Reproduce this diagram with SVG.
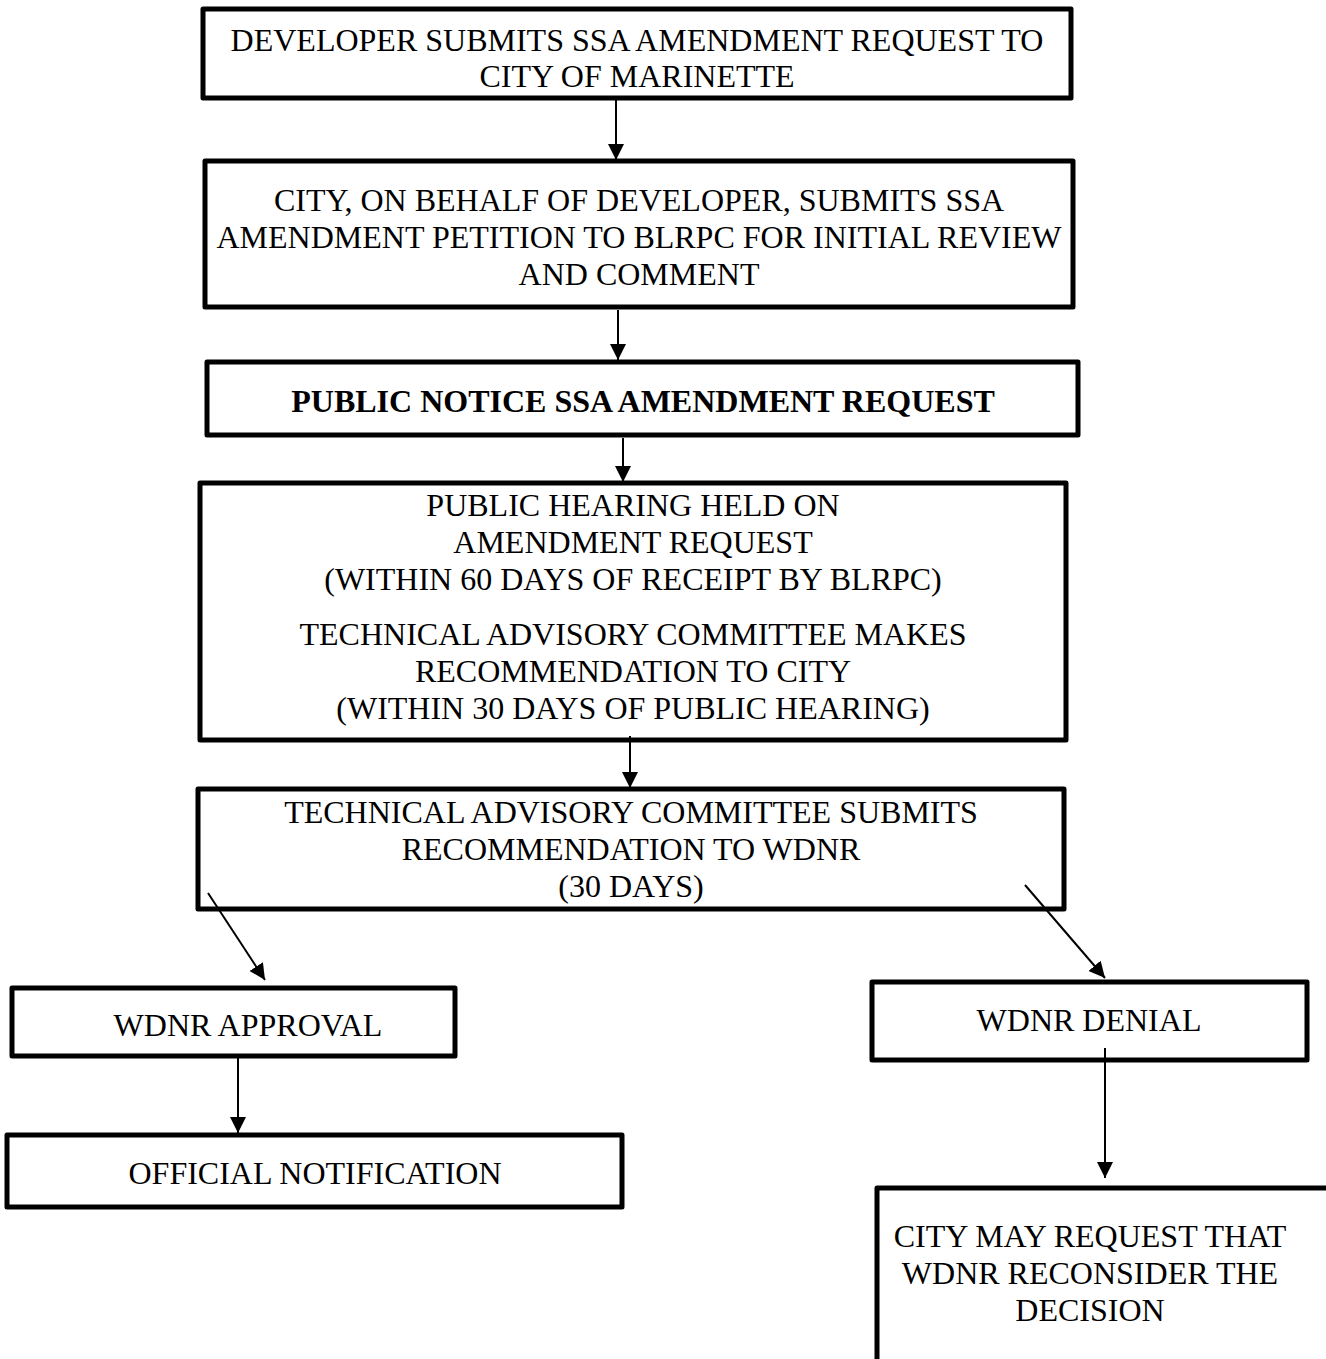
<svg xmlns="http://www.w3.org/2000/svg" width="1326" height="1359" viewBox="0 0 1326 1359">
<defs>
<style>
.box{fill:#fff;stroke:#000;stroke-width:5;stroke-linejoin:round}
.t{font-family:"Liberation Serif","Times New Roman",serif;font-size:32px;fill:#000;text-anchor:middle}
.b{font-weight:bold}
.c{stroke:#000;stroke-width:2;fill:none;marker-end:url(#ah)}
</style>
<marker id="ah" markerUnits="userSpaceOnUse" markerWidth="16" markerHeight="18" refX="16" refY="8" orient="auto">
<path d="M0,0 L16,8 L0,16 Z" fill="#000"/>
</marker>
</defs>
<rect width="1326" height="1359" fill="#fff"/>
<g id="n1">
<rect class="box" x="203" y="9" width="868" height="89"/>
<text class="t" x="637" y="51">DEVELOPER SUBMITS SSA AMENDMENT REQUEST TO</text>
<text class="t" x="637" y="87">CITY OF MARINETTE</text>
</g>
<g id="n2">
<rect class="box" x="205" y="161" width="868" height="146"/>
<text class="t" x="639" y="211">CITY, ON BEHALF OF DEVELOPER, SUBMITS SSA</text>
<text class="t" x="639" y="248">AMENDMENT PETITION TO BLRPC FOR INITIAL REVIEW</text>
<text class="t" x="639" y="285">AND COMMENT</text>
</g>
<g id="n3">
<rect class="box" x="207" y="362" width="871" height="73"/>
<text class="t b" x="643" y="412">PUBLIC NOTICE SSA AMENDMENT REQUEST</text>
</g>
<g id="n4">
<rect class="box" x="200" y="483" width="866" height="257"/>
<text class="t" x="633" y="516">PUBLIC HEARING HELD ON</text>
<text class="t" x="633" y="553">AMENDMENT REQUEST</text>
<text class="t" x="633" y="590">(WITHIN 60 DAYS OF RECEIPT BY BLRPC)</text>
<text class="t" x="633" y="645">TECHNICAL ADVISORY COMMITTEE MAKES</text>
<text class="t" x="633" y="682">RECOMMENDATION TO CITY</text>
<text class="t" x="633" y="719">(WITHIN 30 DAYS OF PUBLIC HEARING)</text>
</g>
<g id="n5">
<rect class="box" x="198" y="789" width="866" height="120"/>
<text class="t" x="631" y="823">TECHNICAL ADVISORY COMMITTEE SUBMITS</text>
<text class="t" x="631" y="860">RECOMMENDATION TO WDNR</text>
<text class="t" x="631" y="897">(30 DAYS)</text>
</g>
<g id="n6">
<rect class="box" x="12" y="988" width="443" height="68"/>
<text class="t" x="248" y="1036">WDNR APPROVAL</text>
</g>
<g id="n7">
<rect class="box" x="872" y="982" width="435" height="78"/>
<text class="t" x="1089" y="1031">WDNR DENIAL</text>
</g>
<g id="n8">
<rect class="box" x="7" y="1135" width="615" height="72"/>
<text class="t" x="315" y="1184">OFFICIAL NOTIFICATION</text>
</g>
<g id="n9">
<rect class="box" x="877" y="1188" width="460" height="190"/>
<text class="t" x="1090" y="1247">CITY MAY REQUEST THAT</text>
<text class="t" x="1090" y="1284">WDNR RECONSIDER THE</text>
<text class="t" x="1090" y="1321">DECISION</text>
</g>
<g id="connectors">
<line class="c" x1="616" y1="100" x2="616" y2="160"/>
<line class="c" x1="618" y1="310" x2="618" y2="360"/>
<line class="c" x1="623" y1="438" x2="623" y2="482"/>
<line class="c" x1="630" y1="736" x2="630" y2="788"/>
<line class="c" x1="208" y1="893" x2="265" y2="980"/>
<line class="c" x1="1025" y1="885" x2="1105" y2="978"/>
<line class="c" x1="238" y1="1058" x2="238" y2="1133"/>
<line class="c" x1="1105" y1="1048" x2="1105" y2="1178"/>
</g>
</svg>
